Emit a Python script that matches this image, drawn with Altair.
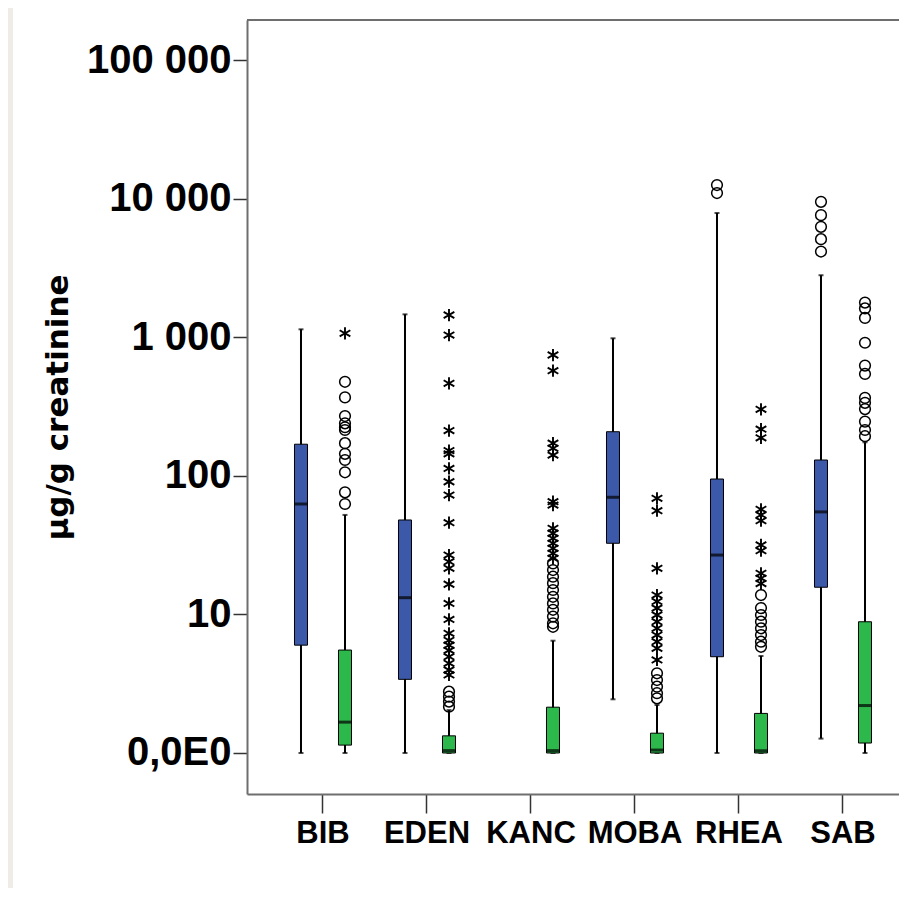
import altair as alt
import pandas as pd

categories = ["BIB", "EDEN", "KANC", "MOBA", "RHEA", "SAB"]
series = ["S1", "S2"]
series_colors = ["#3c58a8", "#2db84b"]

tick_values = [1, 10, 100, 1000, 10000, 100000]
tick_labels = ["0,0E0", "10", "100", "1 000", "10 000", "100 000"]

# box summaries
box_cat = ["BIB", "BIB", "EDEN", "EDEN", "KANC", "MOBA", "MOBA", "RHEA", "RHEA", "SAB", "SAB"]
box_ser = ["S1", "S2", "S1", "S2", "S2", "S1", "S2", "S1", "S2", "S1", "S2"]
whisk_lo = [1, 1, 1, 1, 1, 2.44, 1, 1, 1, 1.27, 1]
q1 = [6.0, 1.14, 3.40, 1.0, 1.0, 32.6, 1.0, 4.95, 1.0, 15.7, 1.18]
median = [62.6, 1.67, 13.2, 1.04, 1.04, 70, 1.05, 26.8, 1.04, 54.9, 2.20]
q3 = [169, 5.53, 48, 1.33, 2.14, 208, 1.39, 94.8, 1.93, 130, 8.85]
whisk_hi = [1140, 52.2, 1462, 2.04, 6.46, 982, 2.22, 7870, 5.01, 2800, 174.5]

# outliers (circles = mild, stars = extreme)
bib_s2_circles = [477, 368, 270, 239, 224, 214, 172, 144, 130, 106, 76, 62.6]
bib_s2_stars = [1067]
eden_s2_circles = [2.77, 2.55, 2.35, 2.16]
eden_s2_stars = [1446, 1037, 465, 212, 152, 144, 113, 90.6, 72.6, 45.9, 26.8, 24.0,
                 21.5, 16.5, 12.0, 9.2, 7.3, 6.5, 6.0, 5.5, 4.95, 4.44, 3.97, 3.66]
kanc_s2_circles = [23.3, 20.9, 18.7, 16.8, 15.0, 13.4, 12.0, 10.8, 9.64, 8.63, 8.14]
kanc_s2_stars = [744, 573, 172, 158, 141, 65, 61.5, 41.8, 38.5, 35.4, 32.6, 30.0, 27.6, 25.4]
moba_s2_circles = [3.76, 3.36, 3.01, 2.70, 2.48]
moba_s2_stars = [68.8, 56, 21.5, 13.8, 12.4, 11.1, 9.9, 8.86, 7.94, 7.10, 6.35, 5.69, 4.69]
rhea_s1_circles = [12530, 10970]
rhea_s2_circles = [13.8, 11.1, 9.9, 8.86, 7.94, 7.10, 6.35, 5.84]
rhea_s2_stars = [302, 217, 188, 57.3, 52.2, 47.4, 31.7, 28.8, 19.8, 18.2, 16.7]
sab_s1_circles = [9480, 7600, 6260, 5100, 4150]
sab_s2_circles = [1778, 1614, 1378, 912, 624, 543, 365, 336, 303, 246, 214, 193]

stats = pd.DataFrame({"cat": box_cat, "ser": box_ser, "lo": whisk_lo, "q1": q1,
                      "med": median, "q3": q3, "hi": whisk_hi})

groups = [
    ("BIB", "S2", "circle", bib_s2_circles), ("BIB", "S2", "star", bib_s2_stars),
    ("EDEN", "S2", "circle", eden_s2_circles), ("EDEN", "S2", "star", eden_s2_stars),
    ("KANC", "S2", "circle", kanc_s2_circles), ("KANC", "S2", "star", kanc_s2_stars),
    ("MOBA", "S2", "circle", moba_s2_circles), ("MOBA", "S2", "star", moba_s2_stars),
    ("RHEA", "S1", "circle", rhea_s1_circles),
    ("RHEA", "S2", "circle", rhea_s2_circles), ("RHEA", "S2", "star", rhea_s2_stars),
    ("SAB", "S1", "circle", sab_s1_circles), ("SAB", "S2", "circle", sab_s2_circles),
]
rows = []
for c, s, k, vals in groups:
    for v in vals:
        rows.append({"cat": c, "ser": s, "kind": k, "val": v})
outliers = pd.DataFrame(rows)

W, H = 652, 774
FONT = "Liberation Sans"

label_expr = " : ".join(
    f"datum.value == {v} ? '{l}'" for v, l in zip(tick_values, tick_labels)
) + " : ''"

y_axis = alt.Axis(values=tick_values, labelExpr=label_expr, grid=False,
                  labelFont=FONT, labelFontSize=40, labelFontWeight="bold",
                  labelColor="black", labelPadding=2, tickSize=14, tickColor="#333333",
                  tickWidth=1.5, domainColor="#6e6e6e", domainWidth=2,
                  title="µg/g creatinine", titleFont="DejaVu Sans", titleFontSize=31,
                  titleFontWeight="bold", titleColor="black", titleX=-189, titleY=387,
                  titleAngle=270, titleBaseline="middle", titleAlign="center")
x_axis = alt.Axis(labelAngle=0, labelFont=FONT, labelFontSize=31, labelFontWeight="bold",
                  labelColor="black", labelPadding=5, tickSize=19, tickColor="#333333",
                  tickWidth=1.5, domainColor="#6e6e6e", domainWidth=2, title=None)

y_scale = alt.Scale(type="log", domain=[0.506, 194400], nice=False)
x_enc = alt.X("cat:N", scale=alt.Scale(domain=categories, paddingInner=0,
                                        paddingOuter=0.1346, align=0.857), axis=x_axis)
xo_enc = alt.XOffset("ser:N", scale=alt.Scale(domain=series, paddingInner=0,
                                               paddingOuter=0.1818))


def Y(field):
    return alt.Y(f"{field}:Q", scale=y_scale, axis=y_axis)


base = alt.Chart(stats)

strip = alt.Chart(pd.DataFrame({"a": [0]})).mark_rect(color="#efece8").encode(
    x=alt.value(-239), x2=alt.value(-234), y=alt.value(-12), y2=alt.value(900))
top_line = alt.Chart(pd.DataFrame({"a": [0]})).mark_rule(
    color="#6e6e6e", strokeWidth=2).encode(x=alt.value(0), x2=alt.value(W), y=alt.value(0))

whiskers = base.mark_rule(color="black", strokeWidth=2).encode(
    x=x_enc, xOffset=xo_enc, y=Y("lo"), y2="hi:Q")
caps = base.transform_fold(["lo", "hi"], as_=["end", "v"]).mark_tick(
    color="black", size=5, thickness=2).encode(x=x_enc, xOffset=xo_enc, y=Y("v"))
boxes = base.mark_bar(size=13, stroke="black", strokeWidth=1).encode(
    x=x_enc, xOffset=xo_enc, y=Y("q1"), y2="q3:Q",
    color=alt.Color("ser:N", scale=alt.Scale(domain=series, range=series_colors), legend=None))
medians = base.mark_tick(color="black", size=13, thickness=3).encode(
    x=x_enc, xOffset=xo_enc, y=Y("med"))

circles = alt.Chart(outliers).transform_filter("datum.kind == 'circle'").mark_point(
    shape="circle", filled=False, size=115, stroke="black", strokeWidth=1.5, opacity=1).encode(
    x=x_enc, xOffset=xo_enc, y=Y("val"))
asterisk = "M0,-1L0,1M-0.87,-0.5L0.87,0.5M-0.87,0.5L0.87,-0.5"
stars = alt.Chart(outliers).transform_filter("datum.kind == 'star'").mark_point(
    shape=asterisk, filled=False, size=150, stroke="black", strokeWidth=1.9, opacity=1).encode(
    x=x_enc, xOffset=xo_enc, y=Y("val"))

chart = alt.layer(strip, top_line, whiskers, caps, boxes, medians, circles, stars).properties(
    width=W, height=H,
    autosize=alt.AutoSizeParams(type="none"),
    padding={"left": 239, "top": 12, "right": 0, "bottom": 94},
    background="white",
).configure_view(stroke=None)

chart.save("out.html", embed_options={"renderer": "svg", "actions": False})
